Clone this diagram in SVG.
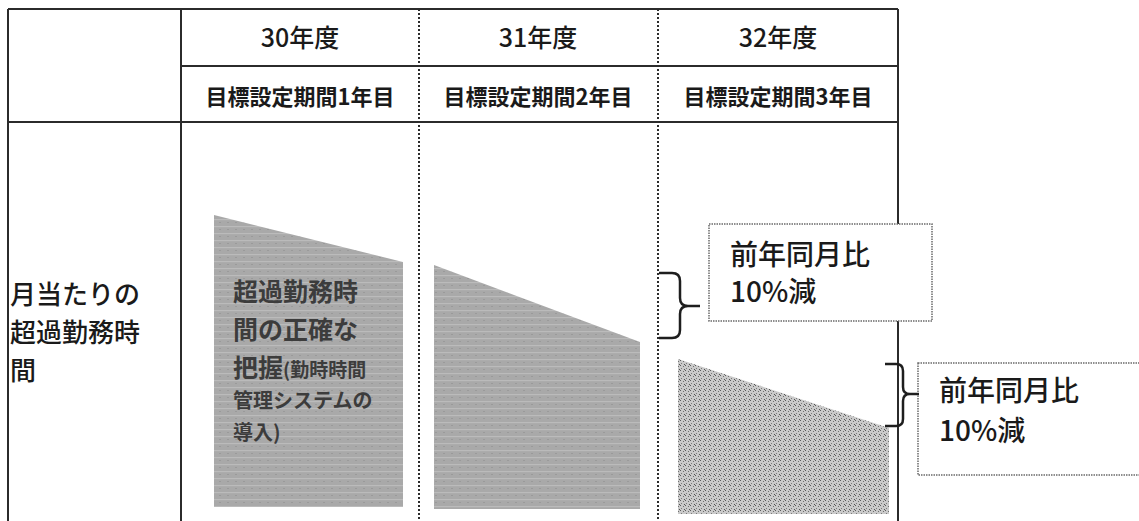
<svg xmlns="http://www.w3.org/2000/svg" width="1139" height="521" viewBox="0 0 1139 521">
  <style>
    .grid { stroke: #2b2b2b; stroke-width: 2; fill: none; }
    .dot { stroke: #2b2b2b; stroke-width: 2; stroke-dasharray: 2 2; fill: none; }
    .box { fill: #ffffff; stroke: #6a6a6a; stroke-width: 1.5; stroke-dasharray: 1.5 1; }
    .brace { fill: none; stroke: #1e1e1e; stroke-width: 2.5; }
    .t { font-family: "Noto Sans CJK JP", "Noto Sans", sans-serif; fill: #1a1a1a; font-weight: 500; }
    .yr { font-size: 25px; text-anchor: middle; }
    .sub { font-size: 22px; font-weight: bold; text-anchor: middle; }
    .lbl { font-size: 26px; }
    .pct { font-size: 28px; }
    .inner { font-family: "Noto Sans CJK JP", "Noto Sans", sans-serif; fill: #3c3c3c; font-weight: bold; }
  </style>
  <defs>
    <pattern id="scan" width="8" height="7" patternUnits="userSpaceOnUse">
      <rect width="8" height="7" fill="#a9a9a9"/>
      <rect y="2" width="8" height="1.2" fill="#bbbbbb"/>
      <rect x="3" y="5" width="2" height="1" fill="#9a9a9a"/>
    </pattern>
    <pattern id="speck" width="5" height="5" patternUnits="userSpaceOnUse">
      <rect width="5" height="5" fill="#cacaca"/>
      <rect x="0" y="0" width="1" height="1" fill="#5a5a5a"/>
      <rect x="3" y="1" width="1" height="1" fill="#6e6e6e"/>
      <rect x="1" y="3" width="1" height="1" fill="#7a7a7a"/>
      <rect x="4" y="4" width="1" height="1" fill="#505050"/>
    </pattern>
  </defs>

  <rect width="1139" height="521" fill="#ffffff"/>

  <g id="table">
    <line class="grid" x1="8" y1="9" x2="898" y2="9"/>
    <line class="grid" x1="181" y1="66" x2="898" y2="66"/>
    <line class="grid" x1="8" y1="122" x2="898" y2="122"/>
    <line class="grid" x1="8" y1="9" x2="8" y2="521"/>
    <line class="grid" x1="181" y1="9" x2="181" y2="521"/>
    <line class="grid" x1="898" y1="9" x2="898" y2="521"/>
    <line class="dot" x1="419" y1="9" x2="419" y2="521"/>
    <line class="dot" x1="658" y1="9" x2="658" y2="521"/>
  </g>

  <g id="header-30">
    <text class="t yr" x="300" y="47">30年度</text>
    <text class="t sub" x="300" y="105">目標設定期間1年目</text>
  </g>
  <g id="header-31">
    <text class="t yr" x="538" y="47">31年度</text>
    <text class="t sub" x="538" y="105">目標設定期間2年目</text>
  </g>
  <g id="header-32">
    <text class="t yr" x="778" y="47">32年度</text>
    <text class="t sub" x="778" y="105">目標設定期間3年目</text>
  </g>

  <g id="row-label">
    <text class="t lbl" x="10" y="304">月当たりの</text>
    <text class="t lbl" x="10" y="342">超過勤務時</text>
    <text class="t lbl" x="10" y="380">間</text>
  </g>

  <g id="bar-30">
    <polygon points="214,215 403,262 403,507 214,507" fill="url(#scan)"/>
    <text class="inner" font-size="25" x="233" y="301">超過勤務時</text>
    <text class="inner" font-size="25" x="233" y="339">間の正確な</text>
    <text class="inner" x="233" y="377"><tspan font-size="25">把握</tspan><tspan font-size="19">(勤時時間</tspan></text>
    <text class="inner" font-size="20" x="233" y="408">管理システムの</text>
    <text class="inner" font-size="20" x="233" y="440">導入)</text>
  </g>

  <g id="bar-31">
    <polygon points="434,265 640,342 640,509 434,509" fill="url(#scan)"/>
  </g>

  <g id="bar-32">
    <polygon points="678,359 889,428 889,514 678,514" fill="url(#speck)"/>
  </g>

  <g id="note-31">
    <rect class="box" x="709" y="224" width="223" height="97"/>
    <text class="t pct" x="730" y="265">前年同月比</text>
    <text class="t pct" x="730" y="302">10%減</text>
  </g>

  <g id="note-32">
    <rect class="box" x="918" y="363" width="230" height="112"/>
    <text class="t pct" x="939" y="401">前年同月比</text>
    <text class="t pct" x="939" y="441">10%減</text>
  </g>

  <g id="connectors">
    <path class="brace" d="M659 273 H672 Q680 273 680 281 V298 Q680 306 688 306 H700 M688 306 Q680 306 680 314 V330 Q680 338 672 338 H659"/>
    <path class="brace" d="M885 364 H896 Q903 364 903 371 V387 Q903 394 910 394 H919 M910 394 Q903 394 903 401 V419 Q903 426 896 426 H885"/>
  </g>
</svg>
